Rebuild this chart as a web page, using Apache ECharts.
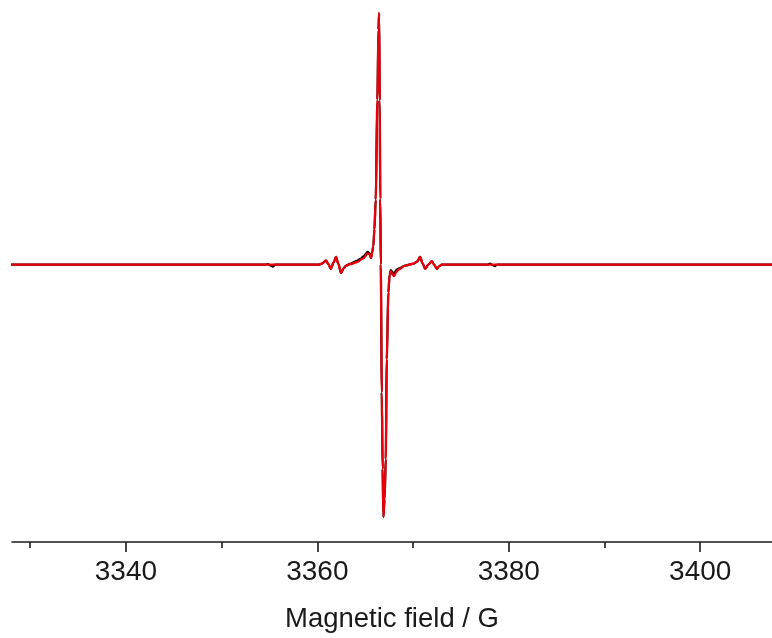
<!DOCTYPE html>
<html>
<head>
<meta charset="utf-8">
<script src="https://cdn.jsdelivr.net/npm/echarts@6/dist/echarts.min.js"></script>
<style>
html,body{margin:0;padding:0;background:#fff;}
#chart{width:772px;height:638px;}
</style>
</head>
<body>
<div id="chart"></div>
<script>
// Magnetic field (G) and signal (normalized) – simulated (red)
const fieldSim = [3328.0,3354.5,3360.2,3360.5,3360.9,3361.15,3361.4,3361.7,3361.95,3362.2,3362.48,3362.75,3363.0,3363.5,3364.1,3364.8,3365.27,3365.45,3365.61,3365.74,3365.85,3365.96,3366.10,3366.27,3366.39,3366.45,3366.52,3366.57,3366.63,3366.73,3366.82,3366.90,3367.02,3367.15,3367.25,3367.42,3367.55,3367.67,3367.85,3368.02,3368.25,3368.47,3369.17,3370.03,3370.45,3370.73,3371.0,3371.26,3371.6,3371.96,3372.2,3372.48,3372.75,3373.0,3407.6];
const signalSim = [0,0,0,0.004,0.016,0.002,-0.017,0.008,0.030,0.002,-0.033,-0.015,-0.004,0.002,0.009,0.024,0.044,0.040,0.026,0.051,0.072,0.138,0.257,0.652,0.929,0.996,0.65,0.26,0.0,-0.506,-0.81,-1.0,-0.93,-0.77,-0.375,-0.111,-0.04,-0.026,-0.04,-0.046,-0.03,-0.020,-0.004,0.003,0.012,0.030,0.005,-0.017,0.0,0.013,0.0,-0.017,-0.006,0.0,0];
// Experimental (black)
const fieldExp = [3328.0,3354.6,3354.85,3355.1,3355.37,3355.6,3360.2,3360.5,3360.9,3361.15,3361.4,3361.7,3361.95,3362.2,3362.48,3362.75,3363.0,3363.5,3364.1,3364.5,3364.8,3365.27,3365.45,3365.61,3365.74,3365.85,3365.96,3366.10,3366.27,3366.39,3366.45,3366.52,3366.57,3366.63,3366.73,3366.82,3366.90,3367.02,3367.15,3367.25,3367.42,3367.55,3367.67,3367.85,3368.02,3368.25,3368.47,3369.17,3370.03,3370.45,3370.73,3371.0,3371.26,3371.6,3371.96,3372.2,3372.48,3372.75,3373.0,3377.8,3378.05,3378.3,3378.57,3378.8,3407.6];
const signalExp = [0,0,0.002,-0.004,-0.008,0,0,0.004,0.016,0.002,-0.017,0.008,0.030,0.002,-0.033,-0.015,-0.004,0.004,0.014,0.022,0.032,0.050,0.044,0.026,0.051,0.072,0.138,0.257,0.652,0.929,0.996,0.65,0.26,0.0,-0.506,-0.81,-1.0,-0.93,-0.77,-0.375,-0.111,-0.04,-0.022,-0.03,-0.036,-0.022,-0.016,-0.004,0.003,0.012,0.030,0.005,-0.017,0.0,0.013,0.0,-0.017,-0.006,0.0,0,0.004,-0.002,-0.006,0,0];
const majorTicks = [3340,3360,3380,3400];
const minorTicks = [3330,3350,3370,3390];
const xName = 'Magnetic field / G';

const zip = (a,b) => a.map((v,i)=>[v,b[i]]);
const chart = echarts.init(document.getElementById('chart'), null, {renderer:'canvas'});
const font = '"Liberation Sans", Arial, sans-serif';
chart.setOption({
  animation:false,
  backgroundColor:'#ffffff',
  grid:{left:12,right:0,top:12,bottom:95,containLabel:false},
  xAxis:[{
    type:'value', min:3328.1, max:3407.5, position:'bottom',
    axisLine:{show:true,onZero:false,lineStyle:{color:'#1a1a1a',width:1.6}},
    axisTick:{show:true,customValues:majorTicks,length:10,lineStyle:{color:'#1a1a1a',width:1.6}},
    axisLabel:{show:true,customValues:majorTicks,margin:16,fontSize:28,fontFamily:font,color:'#1a1a1a',
      formatter:(v)=>String(v)},
    splitLine:{show:false},
    name:xName,nameLocation:'middle',nameGap:63,
    nameTextStyle:{fontSize:27.5,fontFamily:font,color:'#1a1a1a'}
  },{
    type:'value', min:3328.1, max:3407.5, position:'bottom',
    axisLine:{show:false,onZero:false},
    axisTick:{show:true,customValues:minorTicks,length:6,lineStyle:{color:'#1a1a1a',width:1.6}},
    axisLabel:{show:false},
    splitLine:{show:false}
  }],
  yAxis:{type:'value',min:-1.0988,max:1.0,show:false,splitLine:{show:false}},
  series:[
    {type:'line',data:zip(fieldExp,signalExp),showSymbol:false,symbol:'none',clip:false,
     smooth:0.3,smoothMonotone:'x',
     lineStyle:{color:'#000000',width:2.2}},
    {type:'line',data:zip(fieldSim,signalSim),showSymbol:false,symbol:'none',clip:false,
     smooth:0.3,smoothMonotone:'x',
     lineStyle:{color:'#e8000b',width:2.3}}
  ]
});
</script>
</body>
</html>
